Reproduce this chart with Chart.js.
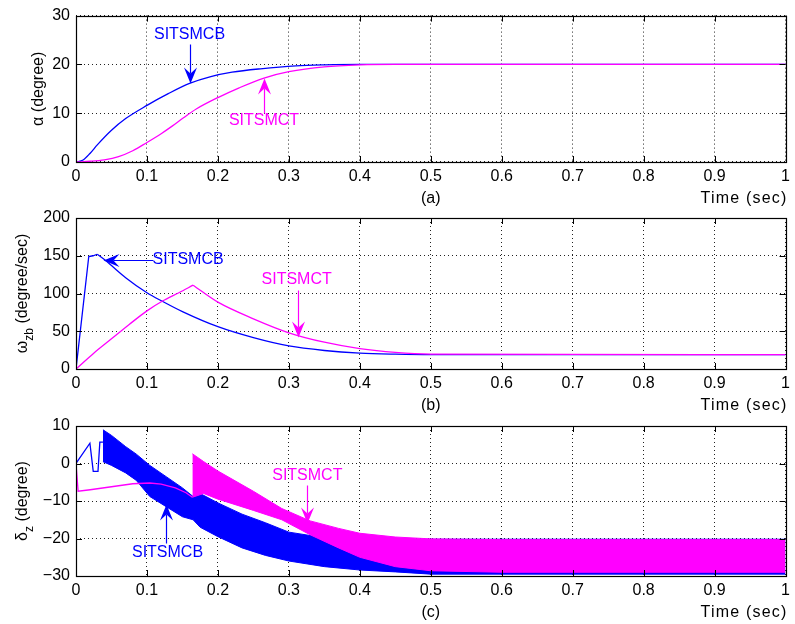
<!DOCTYPE html>
<html>
<head>
<meta charset="utf-8">
<script src="https://cdn.jsdelivr.net/npm/chart.js@4.4.1/dist/chart.umd.min.js"></script>
<style>
  html, body { margin: 0; padding: 0; background: #fff; }
  #wrap { position: relative; width: 795px; height: 624px; }
  #wrap canvas { position: absolute; left: 0; top: 0; }
</style>
</head>
<body>
<div id="wrap">
  <canvas id="cA" width="795" height="624"></canvas>
  <canvas id="cB" width="795" height="624"></canvas>
  <canvas id="cC" width="795" height="624"></canvas>
</div>
<script>
// 軸目盛
const xTicks = [0, 0.1, 0.2, 0.3, 0.4, 0.5, 0.6, 0.7, 0.8, 0.9, 1];
const alphaTicks = [0, 10, 20, 30];
const omegaTicks = [0, 50, 100, 150, 200];
const deltaTicks = [-30, -20, -10, 0, 10];

// (a) alpha [deg]
const alphaB_t = [0, 0.01, 0.02, 0.03, 0.05, 0.07, 0.1, 0.13, 0.16, 0.19, 0.22, 0.26, 0.31, 0.35, 0.4, 1];
const alphaB   = [0, 0.4, 1.8, 3.5, 6.5, 8.9, 11.6, 14.0, 16.1, 17.5, 18.4, 19.1, 19.7, 19.9, 20, 20];
const alphaT_t = [0, 0.02, 0.04, 0.06, 0.08, 0.1, 0.12, 0.136, 0.15, 0.17, 0.2, 0.23, 0.265, 0.3, 0.35, 0.4, 0.45, 1];
const alphaT   = [0, 0.15, 0.45, 1.1, 2.3, 4.0, 5.8, 7.4, 8.9, 10.9, 13.2, 15.2, 17.2, 18.5, 19.5, 19.9, 20, 20];

// (b) omega_zb [deg/s]
const omegaB_t = [0, 0.018, 0.024, 0.03, 0.04, 0.05, 0.07, 0.1, 0.122, 0.15, 0.2, 0.25, 0.3, 0.35, 0.4, 0.45, 0.5, 1];
const omegaB   = [0, 149, 150, 152, 145, 137, 121, 101, 89.5, 76, 56, 41.5, 30.5, 24.5, 21, 19.6, 19, 19];
const omegaT_t = [0, 0.025, 0.05, 0.075, 0.1, 0.122, 0.145, 0.165, 0.2, 0.25, 0.3, 0.35, 0.4, 0.45, 0.5, 1];
const omegaT   = [0, 21, 40, 59, 77, 90, 101, 111, 88.5, 66.5, 48, 35.5, 27, 22, 19.8, 19];

// (c) delta_z [deg]  チャタリング部分は上下の包絡線で塗る
const deltaB_t = [0, 0.0196, 0.0243, 0.031, 0.0336, 0.038];
const deltaB   = [0, 5.4, -2.1, -2.1, 5.7, 5.7];
const bandB_t  = [0.038, 0.05, 0.07, 0.085, 0.104, 0.127, 0.15, 0.165, 0.175, 0.2, 0.234, 0.267, 0.3, 0.35, 0.4, 0.45, 0.5, 1];
const bandB_hi = [9.0, 7.5, 4.5, 2.5, -0.5, -3.5, -6.5, -8.8, -8.0, -10.5, -13.5, -15.8, -18.3, -19.8, -20.2, -20.2, -20.2, -20.2];
const bandB_lo = [0.5, -0.5, -2.5, -4.5, -8.8, -11.5, -14.2, -15.0, -17.0, -19.5, -22.5, -24.5, -26.0, -27.5, -28.4, -28.9, -29.5, -29.5];
const deltaT_t = [0, 0.003, 0.02, 0.05, 0.08, 0.104, 0.12, 0.14, 0.155, 0.164];
const deltaT   = [0, -7.4, -7.0, -6.2, -5.4, -5.2, -5.5, -6.5, -7.8, -9.0];
const bandT_t  = [0.164, 0.18, 0.2, 0.25, 0.29, 0.33, 0.37, 0.4, 0.45, 0.5, 0.6, 1];
const bandT_hi = [2.6, 0.5, -2.0, -7.4, -12.0, -15.3, -17.3, -18.6, -19.6, -20.1, -20.3, -20.3];
const bandT_lo = [-9.0, -8.0, -9.5, -12.5, -15.0, -19.0, -22.5, -25.0, -27.5, -28.6, -29.0, -29.0];

const BLUE = "#0000ff";
const MAGENTA = "#ff00ff";
const FONT_FAMILY = '"Liberation Sans", Arial, Helvetica, sans-serif';
const FONT = "16px " + FONT_FAMILY;
const SUB_FONT = "12px " + FONT_FAMILY;
const X_AXIS_H = 40;
const TICK_LEN = 6;
const LW = 1.3;

const pts = (ts, vs) => ts.map((t, i) => ({ x: t, y: vs[i] }));
const fmtX = v => (v === 0 || v === 1) ? String(v) : v.toFixed(1);
const fmtY = v => v < 0 ? "\u2212" + (-v) : String(v);

// smooth=true なら単調3次補間
function lineSet(ts, vs, color, order, smooth) {
  const ds = { data: pts(ts, vs), borderColor: color, borderWidth: LW, fill: false, order };
  if (smooth) ds.cubicInterpolationMode = "monotone";
  return ds;
}
// 角のある系列は t0 で分割して両側を滑らかに
function splitSet(ts, vs, t0, color, order) {
  const k = ts.indexOf(t0);
  return [
    lineSet(ts.slice(0, k + 1), vs.slice(0, k + 1), color, order, true),
    lineSet(ts.slice(k), vs.slice(k), color, order, true)
  ];
}

// 矢印と注記
function drawNote(ctx, xs, ys, n) {
  const tx = xs.getPixelForValue(n.text[0]), ty = ys.getPixelForValue(n.text[1]);
  const x0 = Math.round(xs.getPixelForValue(n.from[0])) + 0.5, y0 = Math.round(ys.getPixelForValue(n.from[1])) + 0.5;
  const x1 = Math.round(xs.getPixelForValue(n.to[0])) + 0.5, y1 = Math.round(ys.getPixelForValue(n.to[1])) + 0.5;
  const ang = Math.atan2(y1 - y0, x1 - x0);
  const c = Math.cos(ang), s = Math.sin(ang);
  const L = 16, W = 6.5, N = 10;
  ctx.strokeStyle = n.color; ctx.fillStyle = n.color; ctx.lineWidth = 1.2;
  ctx.beginPath(); ctx.moveTo(x0, y0); ctx.lineTo(x1 - N * c, y1 - N * s); ctx.stroke();
  ctx.beginPath();
  ctx.moveTo(x1, y1);
  ctx.lineTo(x1 - L * c - W * s, y1 - L * s + W * c);
  ctx.lineTo(x1 - N * c, y1 - N * s);
  ctx.lineTo(x1 - L * c + W * s, y1 - L * s - W * c);
  ctx.closePath(); ctx.fill();
  ctx.font = FONT; ctx.textAlign = "center"; ctx.textBaseline = "middle";
  ctx.fillText(n.label, tx, ty);
}

// 縦軸タイトル（添字つき）
function drawTitle(ctx, parts, cx, cy) {
  ctx.save();
  ctx.translate(cx, cy); ctx.rotate(-Math.PI / 2);
  ctx.fillStyle = "#000"; ctx.textAlign = "left"; ctx.textBaseline = "alphabetic";
  const widths = parts.map(p => { ctx.font = p[1] ? SUB_FONT : FONT; return ctx.measureText(p[0]).width; });
  let x = -widths.reduce((a, b) => a + b, 0) / 2;
  parts.forEach((p, i) => {
    ctx.font = p[1] ? SUB_FONT : FONT;
    ctx.fillText(p[0], x, p[1] ? 6 : 0);
    x += widths[i];
  });
  ctx.restore();
}

const decor = cfg => ({
  id: "decor",
  afterDatasetsDraw(chart) {
    const { ctx, chartArea: a } = chart;
    const xs = chart.scales.x, ys = chart.scales.y;
    ctx.save();
    // 枠と内向きの目盛線
    ctx.strokeStyle = "#000"; ctx.lineWidth = 1;
    ctx.beginPath();
    xTicks.forEach(v => {
      const px = Math.round(xs.getPixelForValue(v)) + 0.5;
      ctx.moveTo(px, a.top); ctx.lineTo(px, a.top + TICK_LEN);
      ctx.moveTo(px, a.bottom); ctx.lineTo(px, a.bottom - TICK_LEN);
    });
    cfg.yTicks.forEach(v => {
      const py = Math.round(ys.getPixelForValue(v)) + 0.5;
      ctx.moveTo(a.left, py); ctx.lineTo(a.left + TICK_LEN, py);
      ctx.moveTo(a.right, py); ctx.lineTo(a.right - TICK_LEN, py);
    });
    ctx.stroke();
    ctx.lineWidth = 1.2;
    ctx.strokeRect(Math.round(a.left) + 0.5, Math.round(a.top) + 0.5, Math.round(a.right - a.left), Math.round(a.bottom - a.top));

    cfg.notes.forEach(n => drawNote(ctx, xs, ys, n));

    ctx.fillStyle = "#000"; ctx.font = FONT; ctx.textBaseline = "alphabetic";
    ctx.textAlign = "center";
    ctx.fillText(cfg.tag, xs.getPixelForValue(0.5), a.bottom + 41);
    ctx.textAlign = "right";
    ctx.letterSpacing = "1.2px";
    ctx.fillText("Time (sec)", a.right + 2, a.bottom + 41);
    ctx.letterSpacing = "0px";
    drawTitle(ctx, cfg.title, cfg.titleX, (a.top + a.bottom) / 2);
    ctx.restore();
  }
});

function buildChart(id, cfg) {
  return new Chart(document.getElementById(id), {
    type: "line",
    data: { datasets: cfg.datasets },
    options: {
      responsive: false, animation: false, devicePixelRatio: 1,
      layout: { padding: { top: cfg.top, bottom: 624 - cfg.bottom - X_AXIS_H, left: 0, right: 5 } },
      plugins: { legend: { display: false }, tooltip: { enabled: false } },
      elements: { point: { radius: 0 }, line: { borderWidth: LW, tension: 0 } },
      scales: {
        x: {
          type: "linear", min: 0, max: 1,
          afterFit: s => { s.height = X_AXIS_H; },
          afterBuildTicks: s => { s.ticks = xTicks.map(v => ({ value: v })); },
          ticks: { color: "#000", font: { family: FONT_FAMILY, size: 16 }, padding: 5, autoSkip: false, maxRotation: 0, callback: v => fmtX(v) },
          grid: { color: "#222", lineWidth: 1, drawTicks: false },
          border: { display: false, dash: [1, 3] }
        },
        y: {
          type: "linear", min: cfg.yTicks[0], max: cfg.yTicks[cfg.yTicks.length - 1],
          afterFit: s => { s.width = 76; },
          afterBuildTicks: s => { s.ticks = cfg.yTicks.map(v => ({ value: v })); },
          ticks: { color: "#000", font: { family: FONT_FAMILY, size: 16 }, padding: 6, autoSkip: false, callback: v => fmtY(v) },
          grid: { color: "#222", lineWidth: 1, drawTicks: false },
          border: { display: false, dash: [1, 3] }
        }
      }
    },
    plugins: [decor(cfg)]
  });
}

buildChart("cA", {
  top: 12, bottom: 162, yTicks: alphaTicks, tag: "(a)",
  title: [["\u03b1 (degree)", 0]], titleX: 43,
  datasets: [
    lineSet(alphaT_t, alphaT, MAGENTA, 1, true),
    lineSet(alphaB_t, alphaB, BLUE, 2, true)
  ],
  notes: [
    { label: "SITSMCB", color: BLUE, text: [0.16, 26.2], from: [0.16, 24.2], to: [0.16, 16.1] },
    { label: "SITSMCT", color: MAGENTA, text: [0.265, 8.5], from: [0.265, 10.1], to: [0.265, 17.2] }
  ]
});

buildChart("cB", {
  top: 218, bottom: 369, yTicks: omegaTicks, tag: "(b)",
  title: [["\u03c9", 0], ["zb", 1], [" (degree/sec)", 0]], titleX: 27,
  datasets: [
    ...splitSet(omegaT_t, omegaT, 0.165, MAGENTA, 1),
    lineSet(omegaB_t.slice(0, 4), omegaB.slice(0, 4), BLUE, 2, false),
    lineSet(omegaB_t.slice(3), omegaB.slice(3), BLUE, 2, true)
  ],
  notes: [
    { label: "SITSMCB", color: BLUE, text: [0.158, 144.4], from: [0.108, 144.4], to: [0.038, 144.4] },
    { label: "SITSMCT", color: MAGENTA, text: [0.311, 118], from: [0.313, 104.6], to: [0.313, 42.8] }
  ]
});

buildChart("cC", {
  top: 426, bottom: 576, yTicks: deltaTicks, tag: "(c)",
  title: [["\u03b4", 0], ["z", 1], [" (degree)", 0]], titleX: 27,
  datasets: [
    lineSet(deltaT_t, deltaT, MAGENTA, 1, false),
    { data: pts(bandT_t, bandT_hi), borderColor: MAGENTA, backgroundColor: MAGENTA, borderWidth: 1, fill: 2, order: 1 },
    { data: pts(bandT_t, bandT_lo), borderColor: MAGENTA, borderWidth: 1, fill: false, order: 1 },
    lineSet(deltaB_t, deltaB, BLUE, 2, false),
    { data: pts(bandB_t, bandB_hi), borderColor: BLUE, backgroundColor: BLUE, borderWidth: 1, fill: 5, order: 2 },
    { data: pts(bandB_t, bandB_lo), borderColor: BLUE, borderWidth: 1, fill: false, order: 2 }
  ],
  notes: [
    { label: "SITSMCT", color: MAGENTA, text: [0.326, -3.2], from: [0.326, -5.6], to: [0.326, -15.9] },
    { label: "SITSMCB", color: BLUE, text: [0.129, -23.7], from: [0.127, -21.2], to: [0.127, -10.7] }
  ]
});
</script>
</body>
</html>
